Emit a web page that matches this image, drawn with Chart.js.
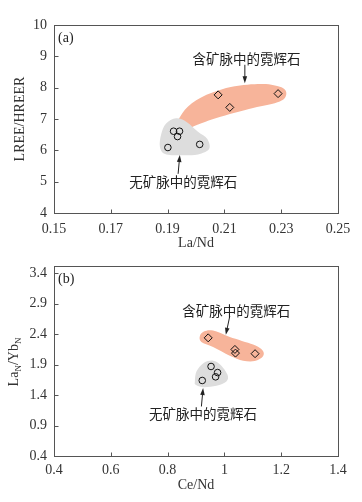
<!DOCTYPE html>
<html>
<head>
<meta charset="utf-8">
<script src="https://cdn.jsdelivr.net/npm/chart.js@4.4.1/dist/chart.umd.min.js"></script>
<style>
html, body { margin: 0; padding: 0; background: #fff; }
canvas { display: block; }
</style>
</head>
<body>
<div style="width:362px;height:250px"><canvas id="chartA" width="362" height="250"></canvas></div>
<div style="width:362px;height:252px"><canvas id="chartB" width="362" height="252"></canvas></div>
<script>
// panel (a): La/Nd vs LREE/HREE
const laNdVein = [0.2078, 0.2119, 0.2289];
const lreeVein = [7.77, 7.37, 7.81];
const laNdNoVein = [0.1901, 0.1921, 0.1942, 0.1935, 0.2013];
const lreeNoVein = [6.09, 6.61, 6.61, 6.44, 6.19];

// panel (b): Ce/Nd vs LaN/YbN
const ceNdVein = [0.943, 1.037, 1.039, 1.108];
const laYbVein = [2.34, 2.15, 2.09, 2.08];
const ceNdNoVein = [0.953, 0.976, 0.969, 0.922];
const laYbNoVein = [1.87, 1.77, 1.70, 1.64];

// tick labels
const xTicksA = ['0.15', '0.17', '0.19', '0.21', '0.23', '0.25'];
const yTicksA = ['4', '5', '6', '7', '8', '9', '10'];
const xTicksB = ['0.4', '0.6', '0.8', '1', '1.2', '1.4'];
const yTicksB = ['0.4', '0.9', '1.4', '1.9', '2.4', '2.9', '3.4'];

// outlines of the shaded fields (data units)
const veinFieldA = [[0.1915, 6.60], [0.1937, 6.97], [0.1972, 7.40], [0.2037, 7.77], [0.2131, 8.04],
  [0.2236, 8.12], [0.2301, 8.01], [0.2318, 7.80], [0.2295, 7.56], [0.2201, 7.35], [0.2072, 7.03],
  [0.1978, 6.71], [0.1943, 6.50]];
const noVeinFieldA = [[0.1873, 6.11], [0.1877, 6.50], [0.1894, 6.85], [0.1930, 7.02], [0.1968, 6.90],
  [0.2007, 6.59], [0.2040, 6.36], [0.2046, 6.04], [0.2007, 5.87], [0.1944, 5.84], [0.1891, 5.88]];
const veinFieldB = [[0.9135, 2.367], [0.9276, 2.444], [0.960, 2.46], [1.019, 2.356], [1.101, 2.23],
  [1.134, 2.136], [1.136, 2.037], [1.107, 1.96], [1.066, 1.966], [1.019, 2.048], [0.960, 2.19],
  [0.919, 2.274]];
const noVeinFieldB = [[0.896, 1.625], [0.902, 1.79], [0.928, 1.93], [0.960, 1.966], [0.986, 1.90],
  [1.011, 1.735], [1.007, 1.625], [0.972, 1.554], [0.925, 1.53], [0.899, 1.57]];

const labelVein = '含矿脉中的霓辉石';
const labelNoVein = '无矿脉中的霓辉石';

const SERIF = '"Liberation Serif", "Times New Roman", serif';
const CJK = '"Noto Sans CJK SC", sans-serif';
const ORANGE = 'rgb(247, 180, 154)';
const GREY = 'rgb(221, 221, 221)';

function zip(xs, ys) {
    return xs.map((v, i) => ({x: v, y: ys[i]}));
}

function smoothClosed(ctx, pts) {
    var n = pts.length;
    ctx.moveTo(pts[0][0], pts[0][1]);
    for (var i = 0; i < n; i++) {
        var p0 = pts[(i - 1 + n) % n], p1 = pts[i], p2 = pts[(i + 1) % n], p3 = pts[(i + 2) % n];
        ctx.bezierCurveTo(p1[0] + (p2[0] - p0[0]) / 6, p1[1] + (p2[1] - p0[1]) / 6,
            p2[0] - (p3[0] - p1[0]) / 6, p2[1] - (p3[1] - p1[1]) / 6, p2[0], p2[1]);
    }
    ctx.closePath();
}

function arrow(ctx, x1, y1, x2, y2) {
    var a = Math.atan2(y2 - y1, x2 - x1);
    ctx.beginPath();
    ctx.moveTo(x1, y1);
    ctx.lineTo(x2 - 5 * Math.cos(a), y2 - 5 * Math.sin(a));
    ctx.stroke();
    ctx.beginPath();
    ctx.moveTo(x2, y2);
    ctx.lineTo(x2 - 7 * Math.cos(a) + 2.3 * Math.sin(a), y2 - 7 * Math.sin(a) - 2.3 * Math.cos(a));
    ctx.lineTo(x2 - 7 * Math.cos(a) - 2.3 * Math.sin(a), y2 - 7 * Math.sin(a) + 2.3 * Math.cos(a));
    ctx.closePath();
    ctx.fill();
}

function makeDecor(cfg) {
    return {
        id: 'decor',
        beforeDatasetsDraw(chart) {
            const {ctx, scales: {x, y}} = chart;
            cfg.fields.forEach(f => {
                const pts = f.pts.map(p => [x.getPixelForValue(p[0]), y.getPixelForValue(p[1])]);
                ctx.save();
                ctx.beginPath();
                smoothClosed(ctx, pts);
                ctx.fillStyle = f.color;
                ctx.fill();
                ctx.restore();
            });
        },
        afterDraw(chart) {
            const {ctx, chartArea: a, scales: {x, y}} = chart;
            ctx.save();
            // frame + inward ticks
            ctx.strokeStyle = '#555';
            ctx.lineWidth = 1;
            const L = Math.round(a.left) + 0.5, T = Math.round(a.top) + 0.5;
            const R = Math.round(a.right) + 0.5, B = Math.round(a.bottom) + 0.5;
            ctx.strokeRect(L, T, R - L, B - T);
            ctx.beginPath();
            x.ticks.forEach(t => {
                const px = Math.round(x.getPixelForValue(t.value)) + 0.5;
                ctx.moveTo(px, B); ctx.lineTo(px, B - 4);
            });
            y.ticks.forEach(t => {
                const py = Math.round(y.getPixelForValue(t.value)) + 0.5;
                ctx.moveTo(L, py); ctx.lineTo(L + 4, py);
            });
            ctx.stroke();

            // panel letter
            ctx.fillStyle = '#222';
            ctx.font = '14px ' + SERIF;
            ctx.textAlign = 'left';
            ctx.textBaseline = 'middle';
            ctx.fillText(cfg.panel, a.left + 4, a.top + 13);

            // field labels and arrows
            ctx.font = '13.5px ' + CJK;
            ctx.textAlign = 'center';
            cfg.notes.forEach(n => {
                ctx.fillText(n.text, x.getPixelForValue(n.at[0]), y.getPixelForValue(n.at[1]));
            });
            ctx.strokeStyle = '#222';
            ctx.lineWidth = 1;
            cfg.arrows.forEach(r => {
                arrow(ctx, x.getPixelForValue(r[0][0]), y.getPixelForValue(r[0][1]),
                    x.getPixelForValue(r[1][0]), y.getPixelForValue(r[1][1]));
            });

            // y title with subscripts
            if (cfg.yTitleParts) {
                ctx.translate(cfg.yTitlePos[0], cfg.yTitlePos[1]);
                ctx.rotate(-Math.PI / 2);
                ctx.fillStyle = '#333';
                ctx.textAlign = 'left';
                ctx.textBaseline = 'alphabetic';
                const big = '14px ' + SERIF, small = '9px ' + SERIF;
                let w = 0;
                cfg.yTitleParts.forEach(p => { ctx.font = p.sub ? small : big; w += ctx.measureText(p.t).width; });
                let cx = -w / 2;
                cfg.yTitleParts.forEach(p => {
                    ctx.font = p.sub ? small : big;
                    ctx.fillText(p.t, cx, p.sub ? 8 : 5);
                    cx += ctx.measureText(p.t).width;
                });
            }
            ctx.restore();
        }
    };
}

function axis(ticks, min, max, size, isX, tickPad, title) {
    return {
        type: 'linear',
        min: min,
        max: max,
        grid: {display: false, drawTicks: false},
        border: {display: false},
        afterBuildTicks: s => { s.ticks = ticks.map(t => ({value: Number(t)})); },
        afterFit: s => { if (isX) { s.height = size; } else { s.width = size; } },
        ticks: {
            autoSkip: false,
            maxRotation: 0,
            padding: tickPad,
            color: '#333',
            font: {family: SERIF, size: 14},
            callback: (v, i) => ticks[i]
        },
        title: title
    };
}

function pointSet(xs, ys, style, r) {
    return {
        data: zip(xs, ys),
        pointStyle: style,
        pointRadius: r,
        borderColor: '#111',
        borderWidth: 1,
        backgroundColor: 'rgba(0,0,0,0)',
        showLine: false
    };
}

new Chart(document.getElementById('chartA').getContext('2d'), {
    type: 'scatter',
    data: {
        datasets: [
            pointSet(laNdNoVein, lreeNoVein, 'circle', 3.3),
            pointSet(laNdVein, lreeVein, 'rectRot', 4)
        ]
    },
    options: {
        responsive: false,
        animation: false,
        events: [],
        layout: {padding: {top: 25, right: 24, left: 0, bottom: 0}},
        plugins: {legend: {display: false}, tooltip: {enabled: false}},
        scales: {
            x: axis(xTicksA, 0.15, 0.25, 37, true, 8,
                {display: true, text: 'La/Nd', color: '#333', font: {family: SERIF, size: 14, lineHeight: 1}, padding: {top: 0, bottom: 0}}),
            y: axis(yTicksA, 4, 10, 54, false, 7,
                {display: true, text: 'LREE/HREER', color: '#333', font: {family: SERIF, size: 14, lineHeight: 1}, padding: {top: 13, bottom: 0}})
        }
    },
    plugins: [makeDecor({
        panel: '(a)',
        fields: [{pts: veinFieldA, color: ORANGE}, {pts: noVeinFieldA, color: GREY}],
        notes: [{text: labelVein, at: [0.2178, 8.91]}, {text: labelNoVein, at: [0.1955, 4.98]}],
        arrows: [[[0.2172, 8.73], [0.2172, 8.14]], [[0.1937, 5.25], [0.1943, 5.85]]]
    })]
});

new Chart(document.getElementById('chartB').getContext('2d'), {
    type: 'scatter',
    data: {
        datasets: [
            pointSet(ceNdNoVein, laYbNoVein, 'circle', 3.3),
            pointSet(ceNdVein, laYbVein, 'rectRot', 4)
        ]
    },
    options: {
        responsive: false,
        animation: false,
        events: [],
        layout: {padding: {top: 16, right: 24, left: 0, bottom: 0}},
        plugins: {legend: {display: false}, tooltip: {enabled: false}},
        scales: {
            x: axis(xTicksB, 0.4, 1.4, 46, true, 6,
                {display: true, text: 'Ce/Nd', color: '#333', font: {family: SERIF, size: 14, lineHeight: 1}, padding: {top: 0, bottom: 10}}),
            y: axis(yTicksB, 0.4, 3.52, 54, false, 7, {display: false})
        }
    },
    plugins: [makeDecor({
        panel: '(b)',
        fields: [{pts: veinFieldB, color: ORANGE}, {pts: noVeinFieldB, color: GREY}],
        notes: [{text: labelVein, at: [1.042, 2.78]}, {text: labelNoVein, at: [0.925, 1.092]}],
        arrows: [[[1.019, 2.697], [1.005, 2.39]], [[0.919, 1.213], [0.925, 1.515]]],
        yTitleParts: [{t: 'La'}, {t: 'N', sub: true}, {t: '/Yb'}, {t: 'N', sub: true}],
        yTitlePos: [13, 112]
    })]
});
</script>
</body>
</html>
